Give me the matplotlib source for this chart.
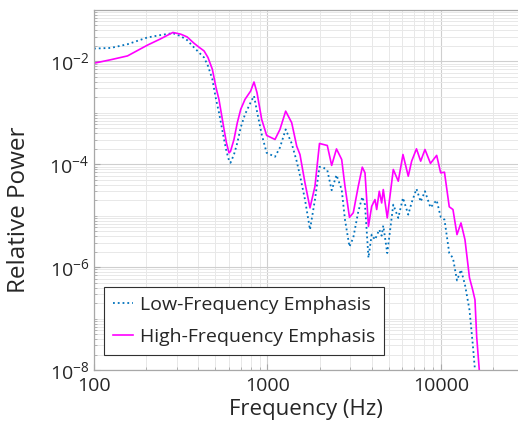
import matplotlib
matplotlib.use("Agg")
import matplotlib.pyplot as plt
from matplotlib.ticker import LogLocator, FuncFormatter, NullFormatter
import numpy as np

freq = [100, 125, 156, 203, 240, 285, 316, 344, 377, 403, 431, 454, 481, 505, 525, 562,
        580, 600, 612, 641, 670,
        701, 742, 800, 836, 870, 926, 989, 1105, 1180, 1273, 1379, 1474, 1539, 1645,
        1758, 1878, 1994, 2097, 2212, 2344, 2499, 2677, 2797, 2969, 3123, 3337, 3519,
        3648, 3820, 3986, 4166, 4261, 4410, 4552, 4650, 4903, 5311, 5675, 6039, 6479,
        6777, 7225, 7638, 8087, 8700, 9445, 9961, 10476, 11163, 11727, 12368, 13043,
        13753, 14600, 15232, 15704, 16064, 16628, 17236]

high = [9.23e-3, 1.08e-2, 1.28e-2, 2.07e-2, 2.71e-2, 3.66e-2, 3.39e-2, 3.0e-2, 2.26e-2,
        1.89e-2, 1.60e-2, 1.19e-2, 7.05e-3, 3.10e-3, 1.83e-3, 4.76e-4, 2.62e-4, 1.67e-4,
        1.78e-4, 3.04e-4, 6.44e-4,
        1.17e-3, 1.83e-3, 2.66e-3,
        3.98e-3, 2.48e-3, 7.46e-4, 3.64e-4, 3.04e-4, 4.76e-4, 1.08e-3, 6.44e-4, 2.25e-4,
        1.55e-4, 4.35e-5, 1.42e-5, 3.74e-5, 2.54e-4, 2.43e-4, 2.32e-4, 9.49e-5, 1.99e-4,
        1.24e-4, 3.74e-5, 9.31e-6, 1.14e-5, 3.74e-5, 8.79e-5, 6.82e-5, 6.21e-6, 1.52e-5,
        2.06e-5, 1.32e-5, 2.99e-5, 1.77e-5, 3.23e-5, 9.06e-6, 7.93e-5, 4.69e-5, 1.55e-4,
        5.86e-5, 1.15e-4, 2.00e-4, 1.15e-4, 1.94e-4, 1.04e-4, 1.49e-4, 6.82e-5, 7.02e-5,
        1.49e-5, 1.32e-5, 4.29e-6, 7.24e-6, 3.42e-6, 6.21e-7, 3.62e-7, 2.32e-7, 4.46e-8,
        1.0e-8, 3.3e-9]

low = [1.78e-2, 1.83e-2, 2.16e-2, 2.92e-2, 3.24e-2, 3.55e-2, 3.10e-2, 2.6e-2, 1.87e-2,
       1.49e-2, 1.19e-2, 8.17e-3, 4.50e-3, 1.83e-3, 1.02e-3, 3.04e-4, 1.80e-4, 1.19e-4,
       1.07e-4, 1.55e-4, 2.62e-4,
       5.21e-4, 9.35e-4, 1.60e-3,
       2.14e-3, 1.07e-3, 3.81e-4, 1.67e-4, 1.40e-4, 2.12e-4, 4.76e-4, 2.54e-4, 1.14e-4,
       6.05e-5, 2.06e-5, 5.36e-6, 2.06e-5, 8.93e-5, 8.67e-5, 7.67e-5, 3.13e-5, 6.18e-5,
       3.23e-5, 8.39e-6, 2.50e-6, 3.74e-6, 1.20e-5, 2.32e-5, 1.64e-5, 1.52e-6, 4.29e-6,
       3.42e-6, 4.09e-6, 5.36e-6, 4.09e-6, 6.41e-6, 1.88e-6, 1.64e-5, 9.06e-6, 2.22e-5,
       1.05e-5, 1.80e-5, 3.33e-5, 1.88e-5, 2.99e-5, 1.44e-5, 2.00e-5, 9.49e-6, 8.39e-6,
       1.88e-6, 1.50e-6, 5.51e-7, 8.89e-7, 4.54e-7, 1.48e-7, 3.31e-8, 1.0e-8, 2e-9,
       1e-9, 1e-9]

labels = ["Low-Frequency Emphasis", "High-Frequency Emphasis"]

plt.rcParams['font.family'] = ['Open Sans', 'DejaVu Sans']
plt.rcParams['mathtext.fontset'] = 'custom'
plt.rcParams['mathtext.rm'] = 'Open Sans'
plt.rcParams['mathtext.it'] = 'Open Sans'
plt.rcParams['mathtext.bf'] = 'Open Sans'

fig = plt.figure(figsize=(5.18, 4.32), dpi=100)
ax = fig.add_axes([94/518, 62/432, 424/518, 360/432])

ax.plot(freq, low, linestyle=':', color='#0072bd', linewidth=1.3, label=labels[0])
ax.plot(freq, high, linestyle='-', color='#ff00ff', linewidth=1.2, label=labels[1])

ax.set_xscale('log')
ax.set_yscale('log')
ax.set_xlim(100, 27800)
ax.set_ylim(1e-8, 1e-1)

ax.xaxis.set_major_locator(LogLocator(base=10, numticks=10))
ax.xaxis.set_minor_locator(LogLocator(base=10, subs=np.arange(2, 10), numticks=20))
ax.xaxis.set_major_formatter(FuncFormatter(lambda v, p: f"{int(round(v))}"))
ax.xaxis.set_minor_formatter(NullFormatter())

ax.yaxis.set_major_locator(LogLocator(base=100, numticks=10))
ax.yaxis.set_minor_locator(LogLocator(base=10, subs=np.arange(1, 10), numticks=30))
ax.yaxis.set_major_formatter(FuncFormatter(lambda v, p: r"$\mathregular{10^{%d}}$" % int(round(np.log10(v)))))
ax.yaxis.set_minor_formatter(NullFormatter())

ax.grid(True, which='major', color='#cfcfcf', linewidth=0.8)
ax.grid(True, which='minor', color='#e8e8e8', linewidth=0.7)
ax.set_axisbelow(True)

for s in ['left', 'bottom', 'top']:
    ax.spines[s].set_color('#a8a8a8')
    ax.spines[s].set_linewidth(0.9)
ax.spines['right'].set_visible(False)

ax.tick_params(which='both', direction='in', colors='#a8a8a8', labelcolor='#262626',
               labelsize=14, top=False, right=False)
ax.tick_params(which='major', length=4)
ax.tick_params(which='minor', length=2.5)
ax.tick_params(axis='x', which='major', pad=5)

ax.set_xlabel("Frequency (Hz)", fontsize=16, color='#262626', labelpad=3)
ax.set_ylabel("Relative Power", fontsize=17.5, color='#262626')
ax.yaxis.set_label_coords(-0.149, 0.444)

leg = ax.legend(loc='lower left', bbox_to_anchor=(0.024, 0.042), fontsize=14,
                fancybox=False, framealpha=1, edgecolor='#303030',
                handlelength=1.05, handletextpad=0.35, borderpad=0.45, labelspacing=0.75,
                borderaxespad=0)
leg.get_frame().set_linewidth(0.8)
for t in leg.get_texts():
    t.set_color('#262626')

fig.savefig("out.png", dpi=100)
